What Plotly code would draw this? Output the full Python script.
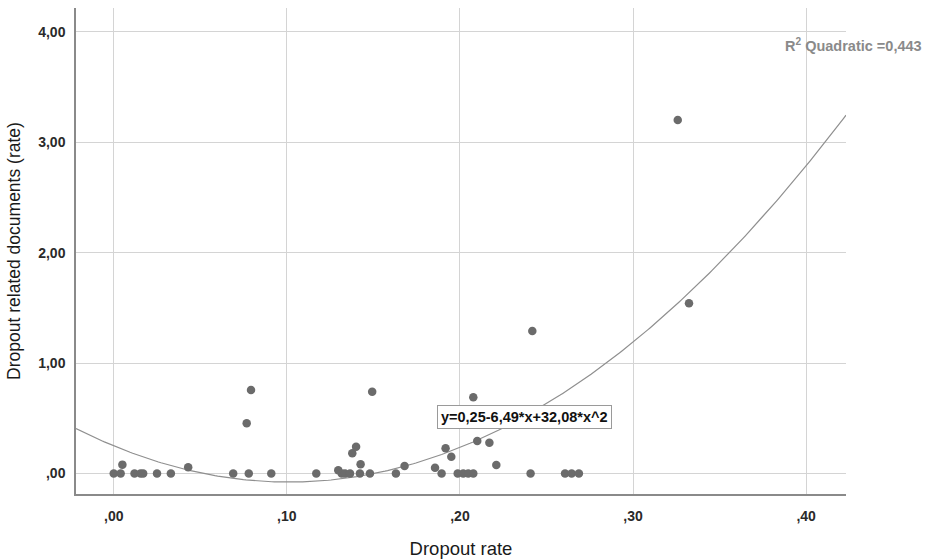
import numpy as np
import plotly.graph_objects as go

# Data
dropout_rate = [0.000, 0.004, 0.005, 0.012, 0.0155, 0.017, 0.025, 0.033, 0.043,
                0.069, 0.0768, 0.078, 0.0793, 0.091, 0.117,
                0.1297, 0.1317, 0.1336, 0.1365, 0.1378, 0.140, 0.1422, 0.1426, 0.148, 0.1493,
                0.163, 0.168, 0.1856, 0.1894, 0.1917, 0.195,
                0.1987, 0.2019, 0.2048, 0.2077, 0.2077, 0.210, 0.217, 0.221,
                0.2408, 0.2418, 0.2607, 0.2645, 0.2687, 0.3258, 0.3323]
related_docs = [0.00, 0.00, 0.08, 0.00, 0.00, 0.00, 0.00, 0.00, 0.056,
                0.00, 0.455, 0.00, 0.756, 0.00, 0.00,
                0.03, 0.00, 0.00, 0.00, 0.183, 0.243, 0.00, 0.083, 0.00, 0.741,
                0.00, 0.068, 0.052, 0.00, 0.228, 0.152,
                0.00, 0.00, 0.00, 0.00, 0.69, 0.294, 0.279, 0.077,
                0.00, 1.29, 0.00, 0.00, 0.00, 3.202, 1.542]

# Quadratic fit coefficients as printed on the chart
fit_b0, fit_b1, fit_b2 = 0.25, -6.49, 32.08
r_squared_label = "R<sup>2</sup> Quadratic =0,443"
equation_label = "y=0,25-6,49*x+32,08*x^2"

x_tickvals = [0.0, 0.1, 0.2, 0.3, 0.4]
x_ticktext = [",00", ",10", ",20", ",30", ",40"]
y_tickvals = [0, 1, 2, 3, 4]
y_ticktext = [",00", "1,00", "2,00", "3,00", "4,00"]

x_range = [-0.0218, 0.423]
y_range = [-0.186, 4.216]

xf = np.linspace(x_range[0], x_range[1], 300)
yf = fit_b0 + fit_b1 * xf + fit_b2 * xf ** 2

fig = go.Figure()
fig.add_trace(go.Scatter(x=xf, y=yf, mode="lines",
                         line=dict(color="#8f8f8f", width=1.2),
                         hoverinfo="skip", showlegend=False))
fig.add_trace(go.Scatter(x=dropout_rate, y=related_docs, mode="markers",
                         marker=dict(size=8.5, color="#6b6b6b"),
                         showlegend=False))

tick_font = dict(family="Liberation Sans, Arial", size=14, color="#2a2a2a", weight="bold")
x_title_font = dict(family="Liberation Sans, Arial", size=18.5, color="#1a1a1a")
y_title_font = dict(family="Liberation Sans, Arial", size=17.5, color="#1a1a1a")

fig.update_layout(
    width=926, height=559,
    margin=dict(l=76, r=80, t=8, b=65, autoexpand=False),
    paper_bgcolor="white", plot_bgcolor="white",
    xaxis=dict(range=x_range, tickvals=x_tickvals, ticktext=x_ticktext,
               showgrid=True, gridcolor="#d4d4d4", gridwidth=1, automargin=False,
               zeroline=False, showline=True, linecolor="#8a8a8a", linewidth=1.5,
               ticks="outside", ticklen=8, tickcolor="rgba(0,0,0,0)",
               tickfont=tick_font,
               title=dict(text="Dropout rate", font=x_title_font, standoff=20)),
    yaxis=dict(range=y_range, tickvals=y_tickvals, ticktext=y_ticktext,
               showgrid=True, gridcolor="#d4d4d4", gridwidth=1, automargin=False,
               zeroline=False, showline=True, linecolor="#8a8a8a", linewidth=1.5,
               ticks="outside", ticklen=6, tickcolor="rgba(0,0,0,0)",
               tickfont=tick_font,
               title=dict(text="Dropout related documents (rate)", font=y_title_font, standoff=13)),
    annotations=[
        dict(x=0.2375, y=0.512, xref="x", yref="y", text=equation_label,
             showarrow=False, font=dict(family="Liberation Sans, Arial",
                                        size=14.5, color="#111111", weight="bold"),
             bgcolor="white", bordercolor="#9a9a9a", borderwidth=1, borderpad=3),
        dict(x=1.101, y=0.924, xref="paper", yref="paper", xanchor="right", yanchor="middle",
             text=r_squared_label, showarrow=False,
             font=dict(family="Liberation Sans, Arial", size=14.5, color="#8a8a8a", weight="bold")),
    ],
)

fig.write_html("out.html", config={"displayModeBar": False},
               post_script="document.body.style.margin='0';")
